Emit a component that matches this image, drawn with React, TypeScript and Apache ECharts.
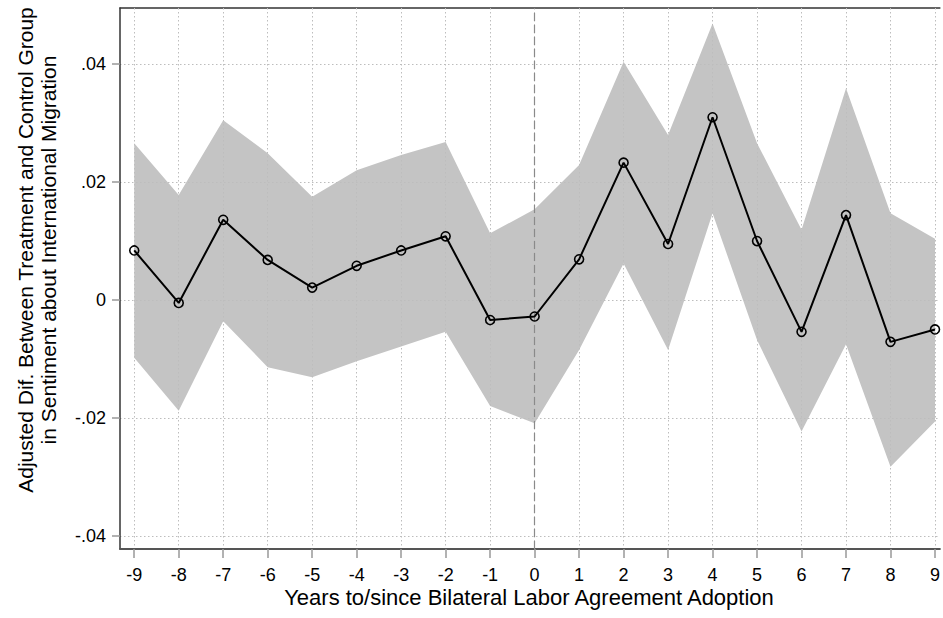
import React, { useEffect, useRef } from "react";
import * as echarts from "echarts";

const years = [-9, -8, -7, -6, -5, -4, -3, -2, -1, 0, 1, 2, 3, 4, 5, 6, 7, 8, 9];
const estimate = [0.0084, -0.0005, 0.0136, 0.0068, 0.0021, 0.0058, 0.0084, 0.0108, -0.0034, -0.0028, 0.0069, 0.0233, 0.0095, 0.031, 0.01, -0.0054, 0.0144, -0.0071, -0.005];
const upperCI = [0.0266, 0.0178, 0.0305, 0.0249, 0.0175, 0.022, 0.0246, 0.0268, 0.0113, 0.0154, 0.0229, 0.0404, 0.028, 0.0469, 0.0266, 0.0119, 0.0359, 0.0147, 0.0104];
const lowerCI = [-0.0098, -0.0188, -0.0036, -0.0114, -0.0131, -0.0104, -0.0079, -0.0054, -0.018, -0.0209, -0.0085, 0.0062, -0.0085, 0.0147, -0.0068, -0.0223, -0.0075, -0.0283, -0.0206];
const yTicks = [-0.04, -0.02, 0, 0.02, 0.04];
const xTitle = "Years to/since Bilateral Labor Agreement Adoption";
const yTitle1 = "Adjusted Dif. Between Treatment and Control Group";
const yTitle2 = "in Sentiment about International Migration";

const FONT = "Liberation Sans, Arial, Helvetica, sans-serif";

function fmtY(v: number): string {
  if (Math.abs(v) < 1e-9) return "0";
  const s = Math.abs(v).toFixed(2).replace(/^0/, "");
  return (v < 0 ? "-" : "") + s;
}

export default function App() {
  const ref = useRef<HTMLDivElement>(null);
  useEffect(() => {
    if (!ref.current) return;
    const chart = echarts.init(ref.current, null, { renderer: "svg" });
    const gridLine = { show: true, lineStyle: { color: "#bdbdbd", width: 1, type: [1.5, 2.5] as any } };
    chart.setOption({
      animation: false,
      backgroundColor: "#fff",
      grid: { left: 120, top: 8, right: 0, bottom: 69, containLabel: false },
      xAxis: [
        {
          type: "value",
          min: -9.32,
          max: 9.11,
          minInterval: 1,
          maxInterval: 1,
          z: 2,
          axisLine: { show: true, onZero: false, lineStyle: { color: "#555", width: 2 } },
          axisTick: { show: true, length: 9, customValues: years, lineStyle: { color: "#999", width: 1.5 } },
          axisLabel: { customValues: years, margin: 17, fontSize: 18, fontFamily: FONT, color: "#000" },
          splitLine: gridLine,
        },
        {
          type: "value",
          position: "top",
          min: -9.32,
          max: 9.11,
          axisLine: { show: true, onZero: false, lineStyle: { color: "#333", width: 1.5 } },
          axisTick: { show: false },
          axisLabel: { show: false },
          splitLine: { show: false },
        },
      ],
      yAxis: {
        type: "value",
        min: -0.04224,
        max: 0.04953,
        minInterval: 0.02,
        maxInterval: 0.02,
        z: 2,
        axisLine: { show: true, onZero: false, lineStyle: { color: "#333", width: 1.5 } },
        axisTick: { show: true, length: 8, customValues: yTicks, lineStyle: { color: "#999", width: 1.5 } },
        axisLabel: { customValues: yTicks, margin: 14, fontSize: 18, fontFamily: FONT, color: "#000", formatter: fmtY },
        splitLine: gridLine,
      },
      graphic: [
        {
          type: "text",
          x: 25.5,
          y: 250,
          rotation: Math.PI / 2,
          style: { text: yTitle1, fontSize: 21, fontFamily: FONT, fill: "#000", align: "center", verticalAlign: "middle" },
        },
        {
          type: "text",
          x: 48,
          y: 250,
          rotation: Math.PI / 2,
          style: { text: yTitle2, fontSize: 21, fontFamily: FONT, fill: "#000", align: "center", verticalAlign: "middle" },
        },
        {
          type: "text",
          x: 529,
          y: 597,
          style: { text: xTitle, fontSize: 22, fontFamily: FONT, fill: "#000", align: "center", verticalAlign: "middle" },
        },
      ],
      series: [
        {
          type: "custom",
          name: "band",
          data: years.map((x, i) => [x, lowerCI[i], upperCI[i]]),
          encode: { x: 0, y: [1, 2] },
          silent: true,
          clip: true,
          z: 1,
          renderItem: (params: any, api: any) => {
            if (params.dataIndex !== 0) return null;
            const pts: number[][] = [];
            for (let i = 0; i < years.length; i++) pts.push(api.coord([years[i], upperCI[i]]));
            for (let i = years.length - 1; i >= 0; i--) pts.push(api.coord([years[i], lowerCI[i]]));
            return {
              type: "polygon",
              shape: { points: pts },
              style: { fill: "#c4c4c4", stroke: "none" },
            };
          },
        },
        {
          type: "line",
          name: "estimate",
          data: years.map((x, i) => [x, estimate[i]]),
          symbol: "circle",
          symbolSize: 9,
          showAllSymbol: true,
          lineStyle: { color: "#000", width: 2 },
          itemStyle: { color: "rgba(0,0,0,0)", borderColor: "#000", borderWidth: 1.6 },
          z: 4,
          markLine: {
            silent: true,
            symbol: "none",
            label: { show: false },
            lineStyle: { color: "#8a8a8a", width: 1.2, type: [8, 4] as any },
            data: [{ xAxis: 0 }],
            z: 3,
          },
        },
      ],
    });
    return () => chart.dispose();
  }, []);
  return <div ref={ref} style={{ position: "fixed", left: 0, top: 0, width: 943, height: 618 }} />;
}
